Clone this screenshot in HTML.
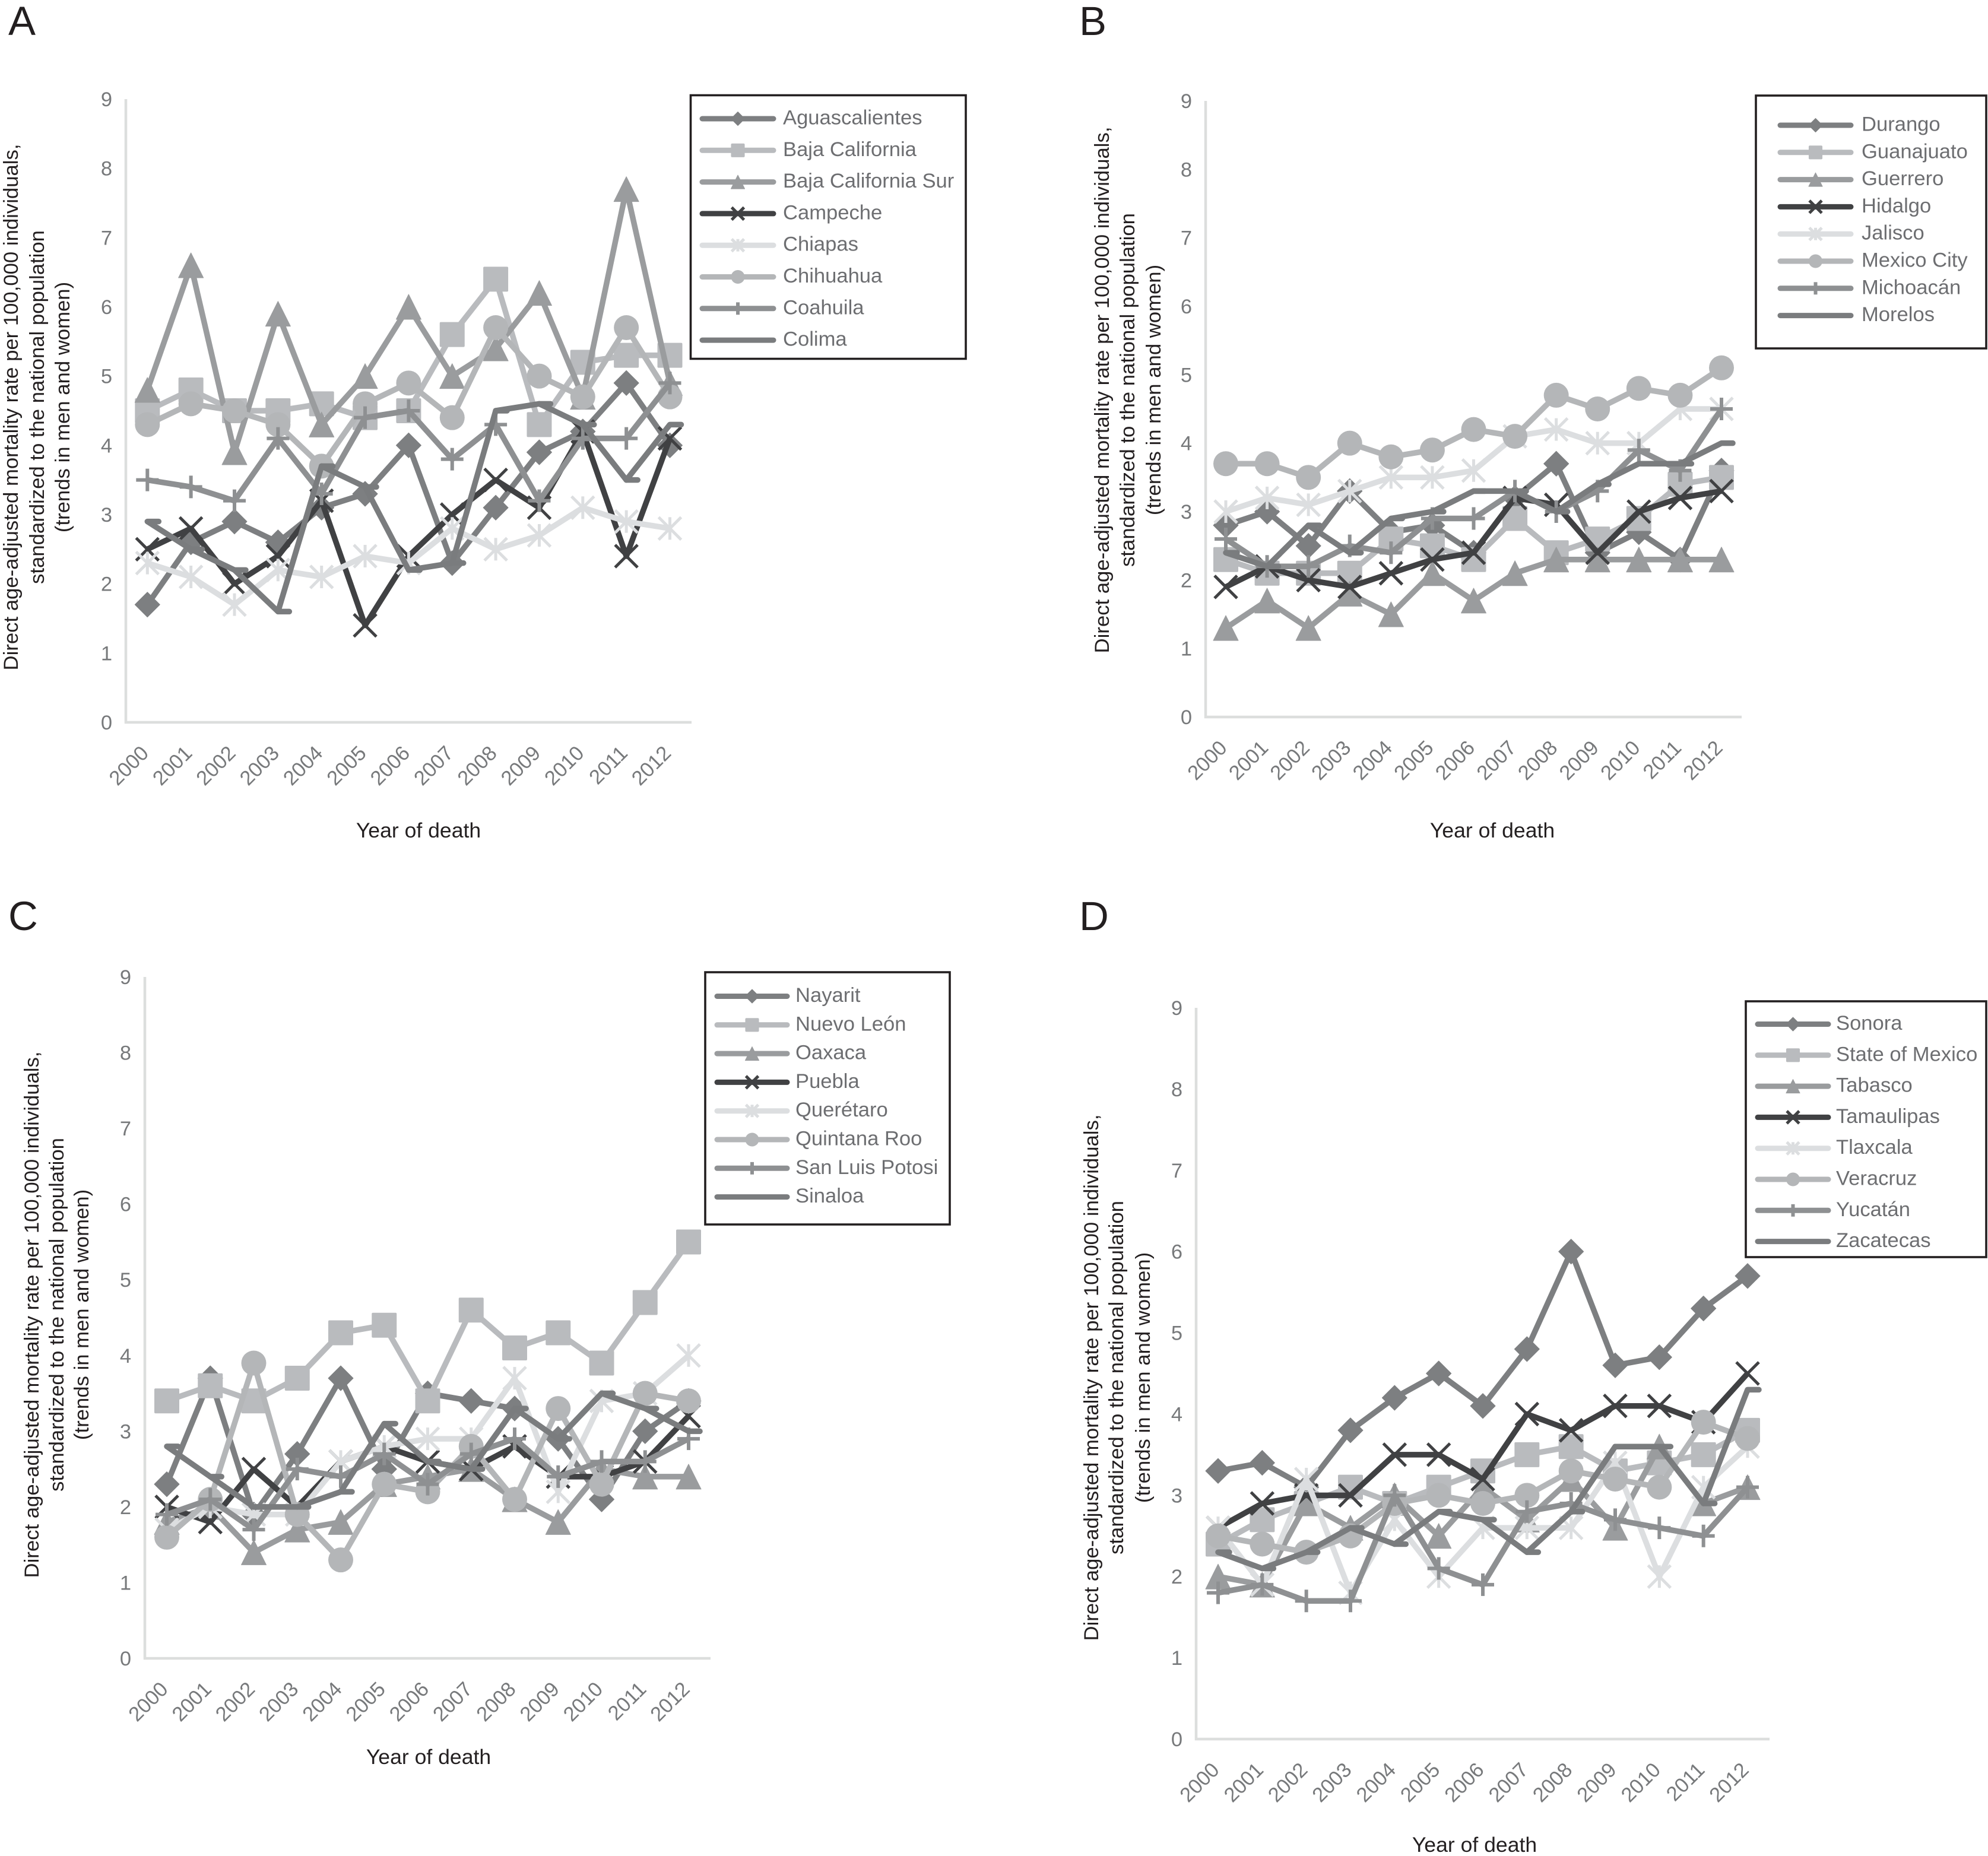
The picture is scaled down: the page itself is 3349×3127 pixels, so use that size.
<!DOCTYPE html>
<html lang="en">
<head>
<meta charset="utf-8">
<title>Direct age-adjusted mortality rate trends by Mexican state, 2000–2012</title>
<style>
html,body{margin:0;padding:0;background:#fff;}
body{width:3349px;height:3127px;overflow:hidden;}
svg{display:block;font-family:"Liberation Sans",Arial,sans-serif;}
</style>
</head>
<body>
<svg id="figure" xmlns="http://www.w3.org/2000/svg" width="3349" height="3127" viewBox="0 0 3349 3127">
<rect x="0" y="0" width="3349" height="3127" fill="#ffffff"/>
<text x="14" y="59" font-size="69" fill="#231f20">A</text>
<text x="1818" y="59" font-size="69" fill="#231f20">B</text>
<text x="14" y="1567" font-size="69" fill="#231f20">C</text>
<text x="1818" y="1567" font-size="69" fill="#231f20">D</text>
</svg>
<script>
// ---------- shared chart data ----------
const years = ['2000','2001','2002','2003','2004','2005','2006','2007','2008','2009','2010','2011','2012'];
const yTicks = [0,1,2,3,4,5,6,7,8,9];
const yTitleLines = ['Direct age-adjusted mortality rate per 100,000 individuals,','standardized to the national population','(trends in men and women)'];
const xTitle = 'Year of death';

// ---------- panel A ----------
const namesA = ['Aguascalientes','Baja California','Baja California Sur','Campeche','Chiapas','Chihuahua','Coahuila','Colima'];
const aguascalientes = [1.7,2.6,2.9,2.6,3.1,3.3,4.0,2.3,3.1,3.9,4.2,4.9,4.0];
const bajaCalifornia = [4.5,4.8,4.5,4.5,4.6,4.4,4.5,5.6,6.4,4.3,5.2,5.3,5.3];
const bajaCaliforniaSur = [4.8,6.6,3.9,5.9,4.3,5.0,6.0,5.0,5.4,6.2,4.7,7.7,4.9];
const campeche = [2.5,2.8,2.0,2.4,3.2,1.4,2.4,3.0,3.5,3.1,4.2,2.4,4.1];
const chiapas = [2.3,2.1,1.7,2.2,2.1,2.4,2.3,2.8,2.5,2.7,3.1,2.9,2.8];
const chihuahua = [4.3,4.6,4.5,4.3,3.7,4.6,4.9,4.4,5.7,5.0,4.7,5.7,4.7];
const coahuila = [3.5,3.4,3.2,4.1,3.3,4.4,4.5,3.8,4.3,3.2,4.1,4.1,4.9];
const colima = [2.9,2.5,2.2,1.6,3.7,3.4,2.2,2.3,4.5,4.6,4.3,3.5,4.3];

// ---------- panel B ----------
const namesB = ['Durango','Guanajuato','Guerrero','Hidalgo','Jalisco','Mexico City','Michoacán','Morelos'];
const durango = [2.8,3.0,2.5,3.3,2.7,2.8,2.4,3.2,3.7,2.4,2.7,2.3,3.6];
const guanajuato = [2.3,2.1,2.1,2.1,2.6,2.5,2.3,2.9,2.4,2.6,2.9,3.4,3.5];
const guerrero = [1.3,1.7,1.3,1.8,1.5,2.1,1.7,2.1,2.3,2.3,2.3,2.3,2.3];
const hidalgo = [1.9,2.2,2.0,1.9,2.1,2.3,2.4,3.2,3.1,2.4,3.0,3.2,3.3];
const jalisco = [3.0,3.2,3.1,3.3,3.5,3.5,3.6,4.1,4.2,4.0,4.0,4.5,4.5];
const mexicoCity = [3.7,3.7,3.5,4.0,3.8,3.9,4.2,4.1,4.7,4.5,4.8,4.7,5.1];
const michoacan = [2.6,2.2,2.2,2.5,2.4,2.9,2.9,3.3,3.0,3.3,3.9,3.6,4.5];
const morelos = [2.4,2.2,2.8,2.4,2.9,3.0,3.3,3.3,3.0,3.4,3.7,3.7,4.0];

// ---------- panel C ----------
const namesC = ['Nayarit','Nuevo León','Oaxaca','Puebla','Querétaro','Quintana Roo','San Luis Potosi','Sinaloa'];
const nayarit = [2.3,3.7,1.9,2.7,3.7,2.5,3.5,3.4,3.3,2.9,2.1,3.0,3.4];
const nuevoLeon = [3.4,3.6,3.4,3.7,4.3,4.4,3.4,4.6,4.1,4.3,3.9,4.7,5.5];
const oaxaca = [1.8,2.0,1.4,1.7,1.8,2.3,2.4,2.5,2.1,1.8,2.5,2.4,2.4];
const puebla = [2.0,1.8,2.5,2.0,2.6,2.8,2.6,2.5,2.8,2.4,2.4,2.6,3.2];
const queretaro = [1.7,2.0,1.9,1.9,2.6,2.8,2.9,2.9,3.7,2.2,3.4,3.5,4.0];
const quintanaRoo = [1.6,2.1,3.9,1.9,1.3,2.3,2.2,2.8,2.1,3.3,2.3,3.5,3.4];
const sanLuisPotosi = [1.9,2.1,1.7,2.5,2.4,2.7,2.3,2.7,2.9,2.4,2.6,2.6,2.9];
const sinaloa = [2.8,2.4,2.0,2.0,2.2,3.1,2.6,2.5,3.3,2.9,3.5,3.3,3.0];

// ---------- panel D ----------
const namesD = ['Sonora','State of Mexico','Tabasco','Tamaulipas','Tlaxcala','Veracruz','Yucatán','Zacatecas'];
const sonora = [3.3,3.4,3.1,3.8,4.2,4.5,4.1,4.8,6.0,4.6,4.7,5.3,5.7];
const stateOfMexico = [2.4,2.7,2.9,3.1,2.9,3.1,3.3,3.5,3.6,3.3,3.4,3.5,3.8];
const tabasco = [2.0,1.9,2.9,2.6,3.0,2.5,3.1,2.7,3.2,2.6,3.6,2.9,3.1];
const tamaulipas = [2.6,2.9,3.0,3.0,3.5,3.5,3.2,4.0,3.8,4.1,4.1,3.9,4.5];
const tlaxcala = [2.6,1.9,3.2,1.8,2.7,2.0,2.6,2.6,2.6,3.4,2.0,3.1,3.6];
const veracruz = [2.5,2.4,2.3,2.5,2.9,3.0,2.9,3.0,3.3,3.2,3.1,3.9,3.7];
const yucatan = [1.8,1.9,1.7,1.7,3.0,2.1,1.9,2.8,2.9,2.7,2.6,2.5,3.1];
const zacatecas = [2.3,2.1,2.3,2.6,2.4,2.8,2.7,2.3,2.8,3.6,3.6,2.9,4.3];

// ---------- styling (per-series order, same in every panel) ----------
const seriesColors = ['#7d7f81','#b9bbbe','#9a9c9e','#404143','#dcdee0','#b4b6b8','#8e9092','#7a7c7e'];
const markerKinds = ['diamond','square','triangle','cross','star','circle','plus','dash'];
const tickColor = '#77797b';
const axisColor = '#dcdedd';
const legendTextColor = '#6d6e71';
const titleColor = '#231f20';

// ---------- panel layouts ----------
const panels = [
  {id:'a', names:namesA, series:[aguascalientes,bajaCalifornia,bajaCaliforniaSur,campeche,chiapas,chihuahua,coahuila,colima],
   axisX:212, axisRight:1165, y0:1217, y9:167, firstX:248.3, lastX:1128.5,
   titleBaselines:[30,74,117], titleCy:686, xTitleX:705, xTitleY:1411,
   box:[1163.5,160.5,1627,604.5], legendLine:[1179,1307], legendTextX:1319, legendFirstY:200, legendStep:53.3},
  {id:'b', names:namesB, series:[durango,guanajuato,guerrero,hidalgo,jalisco,mexicoCity,michoacan,morelos],
   axisX:2031, axisRight:2934, y0:1208, y9:170, firstX:2065, lastX:2900,
   titleBaselines:[1868,1911,1955], titleCy:657, xTitleX:2514, xTitleY:1411,
   box:[2958,161,3346,587], legendLine:[2995,3122], legendTextX:3136, legendFirstY:211, legendStep:45.8},
  {id:'c', names:namesC, series:[nayarit,nuevoLeon,oaxaca,puebla,queretaro,quintanaRoo,sanLuisPotosi,sinaloa],
   axisX:244, axisRight:1197, y0:2794, y9:1646, firstX:281, lastX:1160,
   titleBaselines:[65,107,149], titleCy:2215, xTitleX:722, xTitleY:2972,
   box:[1188,1638,1600,2063], legendLine:[1204,1330], legendTextX:1340, legendFirstY:1678.5, legendStep:48.3},
  {id:'d', names:namesD, series:[sonora,stateOfMexico,tabasco,tamaulipas,tlaxcala,veracruz,yucatan,zacatecas],
   axisX:2015, axisRight:2981, y0:2930, y9:1698, firstX:2052, lastX:2944,
   titleBaselines:[1850,1892,1937], titleCy:2321, xTitleX:2484, xTitleY:3120,
   box:[2941,1687,3346,2118], legendLine:[2957,3084], legendTextX:3093, legendFirstY:1725.5, legendStep:52.3}
];

const NS = 'http://www.w3.org/2000/svg';
const figure = document.getElementById('figure');

function make(tag, attrs, parent) {
  const el = document.createElementNS(NS, tag);
  for (const k in attrs) el.setAttribute(k, attrs[k]);
  parent.appendChild(el);
  return el;
}
function slug(s) {
  return s.toLowerCase().normalize('NFD').replace(/[\u0300-\u036f]/g, '').replace(/[^a-z0-9]+/g, '-');
}

function drawMarker(g, kind, x, y, color, k) {
  const stroke = (w, pts) => make('polyline', {points: pts, fill: 'none', stroke: color, 'stroke-width': w}, g);
  if (kind === 'diamond') {
    const r = 21 * k;
    make('polygon', {points: `${x},${y-r} ${x+r},${y} ${x},${y+r} ${x-r},${y}`, fill: color, stroke: color, 'stroke-width': 1, 'stroke-linejoin': 'round'}, g);
  } else if (kind === 'square') {
    const r = 21 * k;
    make('rect', {x: x-r, y: y-r, width: 2*r, height: 2*r, rx: 2, fill: color}, g);
  } else if (kind === 'triangle') {
    const r = 21 * k;
    make('polygon', {points: `${x},${y-r} ${x+r},${y+r} ${x-r},${y+r}`, fill: color, stroke: color, 'stroke-width': 1, 'stroke-linejoin': 'round'}, g);
  } else if (kind === 'cross') {
    const r = 19 * k;
    stroke(5, `${x-r},${y-r} ${x+r},${y+r}`);
    stroke(5, `${x-r},${y+r} ${x+r},${y-r}`);
  } else if (kind === 'star') {
    const r = 19 * k;
    stroke(5, `${x-r},${y-r} ${x+r},${y+r}`);
    stroke(5, `${x-r},${y+r} ${x+r},${y-r}`);
    stroke(5, `${x},${y-r} ${x},${y+r}`);
  } else if (kind === 'circle') {
    make('circle', {cx: x, cy: y, r: 21 * k, fill: color}, g);
  } else if (kind === 'plus') {
    const r = 19 * k;
    stroke(6, `${x},${y-r} ${x},${y+r}`);
    stroke(6, `${x-r},${y} ${x+r},${y}`);
  } else if (kind === 'dash') {
    if (k === 1) make('line', {x1: x, y1: y, x2: x+19, y2: y, stroke: color, 'stroke-width': 9.5, 'stroke-linecap': 'round'}, g);
  }
}

function drawPanel(p) {
  const panel = make('g', {}, figure);
  
  

  // axis functions
  const xScale = i => p.firstX + (p.lastX - p.firstX) * i / (years.length - 1);
  const yScale = v => p.y0 + (p.y9 - p.y0) * v / yTicks[yTicks.length - 1];

  // y-axis title
  yTitleLines.forEach((line, i) => {
    const t = make('text', {x: 0, y: 0, 'font-size': 34.7, fill: titleColor, 'text-anchor': 'middle',
      transform: `translate(${p.titleBaselines[i]},${p.titleCy}) rotate(-90)`}, panel);
    t.textContent = line;
    
    
  });

  // axes
  const yAxis = make('line', {x1: p.axisX, y1: p.y9, x2: p.axisX, y2: p.y0 + 2, stroke: axisColor, 'stroke-width': 4.5}, panel);
  
  
  const xAxis = make('line', {x1: p.axisX - 2, y1: p.y0, x2: p.axisRight, y2: p.y0, stroke: axisColor, 'stroke-width': 4.5}, panel);
  
  

  // y tick labels
  yTicks.forEach(v => {
    const t = make('text', {x: p.axisX - 23, y: yScale(v) + 12, 'font-size': 34.5, fill: tickColor, 'text-anchor': 'end'}, panel);
    t.textContent = v;
    
    
  });

  // x tick labels
  years.forEach((yr, i) => {
    const t = make('text', {x: 0, y: 0, 'font-size': 34.5, fill: tickColor, 'text-anchor': 'end',
      transform: `translate(${xScale(i) + 4},${p.y0 + 54}) rotate(-45)`}, panel);
    t.textContent = yr;
    
    
  });

  // x-axis title
  const xt = make('text', {x: p.xTitleX, y: p.xTitleY, 'font-size': 35.6, fill: titleColor, 'text-anchor': 'middle'}, panel);
  xt.textContent = xTitle;
  
  

  // series
  p.series.forEach((vals, s) => {
    const color = seriesColors[s];
    const sName = slug(p.names[s]);
    const g = make('g', {}, panel);
    
    
    const line = make('polyline', {points: vals.map((v, i) => xScale(i) + ',' + yScale(v)).join(' '),
      fill: 'none', stroke: color, 'stroke-width': 9.5, 'stroke-linejoin': 'round'}, g);
    
    
    vals.forEach((v, i) => {
      const m = make('g', {}, g);
      
      
      drawMarker(m, markerKinds[s], xScale(i), yScale(v), color, 1);
    });
  });

  // legend
  const lg = make('g', {}, panel);
  
  
  const [bx0, by0, bx1, by1] = p.box;
  const frame = make('rect', {x: bx0, y: by0, width: bx1 - bx0, height: by1 - by0, fill: '#ffffff', stroke: '#231f20', 'stroke-width': 3.6}, lg);
  
  
  p.names.forEach((name, s) => {
    const y = p.legendFirstY + s * p.legendStep;
    const e = make('g', {}, lg);
    
    
    make('line', {x1: p.legendLine[0] + 4, y1: y, x2: p.legendLine[1] - 4, y2: y, stroke: seriesColors[s], 'stroke-width': 9, 'stroke-linecap': 'round'}, e);
    drawMarker(e, markerKinds[s], (p.legendLine[0] + p.legendLine[1]) / 2, y, seriesColors[s], 0.55);
    const t = make('text', {x: p.legendTextX, y: y + 9.5, 'font-size': 34.6, fill: legendTextColor}, e);
    t.textContent = name;
    
    
  });
}

panels.forEach(drawPanel);
</script>
</body>
</html>
